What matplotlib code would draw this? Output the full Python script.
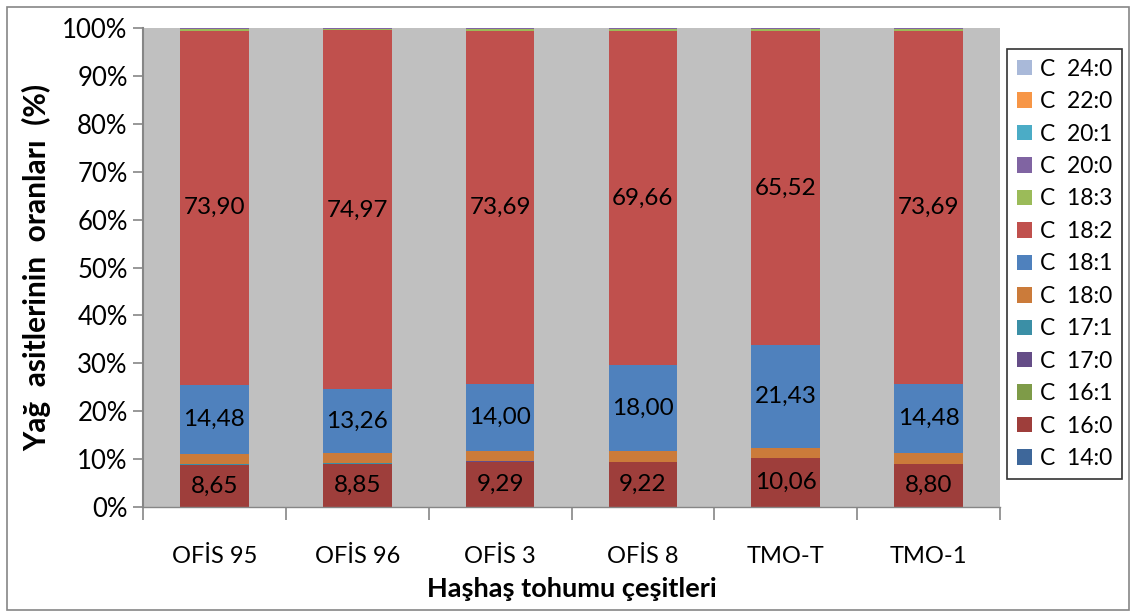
import matplotlib
matplotlib.use("Agg")
import matplotlib.pyplot as plt
import numpy as np
from matplotlib.patches import Patch, Rectangle

categories = ["OFİS 95", "OFİS 96", "OFİS 3", "OFİS 8", "TMO-T", "TMO-1"]
series_names = ["C  14:0", "C  16:0", "C  16:1", "C  17:0", "C  17:1", "C  18:0",
                "C  18:1", "C  18:2", "C  18:3", "C  20:0", "C  20:1", "C  22:0", "C  24:0"]
c14_0 = [0.08, 0.08, 0.08, 0.08, 0.08, 0.08]
c16_0 = [8.65, 8.85, 9.29, 9.22, 10.06, 8.80]
c16_1 = [0.10, 0.10, 0.10, 0.10, 0.10, 0.10]
c17_0 = [0.03, 0.03, 0.03, 0.03, 0.03, 0.03]
c17_1 = [0.03, 0.03, 0.03, 0.03, 0.03, 0.03]
c18_0 = [2.20, 2.20, 2.20, 2.20, 2.10, 2.15]
c18_1 = [14.48, 13.26, 14.00, 18.00, 21.43, 14.48]
c18_2 = [73.90, 74.97, 73.69, 69.66, 65.52, 73.69]
c18_3 = [0.35, 0.30, 0.40, 0.50, 0.47, 0.46]
c20_0 = [0.08, 0.08, 0.08, 0.08, 0.08, 0.08]
c20_1 = [0.05, 0.05, 0.05, 0.05, 0.05, 0.05]
c22_0 = [0.03, 0.03, 0.03, 0.03, 0.03, 0.03]
c24_0 = [0.02, 0.02, 0.02, 0.02, 0.02, 0.02]

series = [c14_0, c16_0, c16_1, c17_0, c17_1, c18_0, c18_1, c18_2, c18_3,
          c20_0, c20_1, c22_0, c24_0]
colors = ["#3E679A", "#9E3E3B", "#7E9B48", "#654D87", "#3B8FA6", "#CB7B3A",
          "#4F81BD", "#C0504D", "#9BBB59", "#8064A2", "#4BACC6", "#F79646", "#A9B9D9"]
labeled = {1, 6, 7}

font = "Lato"
plt.rcParams['font.family'] = [font, 'DejaVu Sans']

W, H = 1135, 612
fig = plt.figure(figsize=(W/100, H/100), dpi=100)
ax = fig.add_axes([143/W, 1-507/H, (1000-143)/W, (507-28)/H])
ax.set_facecolor("#C0C0C0")

data = np.array(series, dtype=float)
totals = data.sum(axis=0)
frac = data / totals
x = np.arange(len(categories))
bottom = np.zeros(len(categories))
for i, (vals, col) in enumerate(zip(frac, colors)):
    ax.bar(x, vals, 0.48, bottom=bottom, color=col, edgecolor="none", zorder=2)
    if i in labeled:
        for xi, v, b, raw in zip(x, vals, bottom, data[i]):
            ax.text(xi, b + v/2, f"{raw:.2f}".replace(".", ","), ha="center", va="center",
                    fontsize=17.5, color="black", zorder=3)
    bottom += vals

ax.set_xlim(-0.5, len(categories) - 0.5)
ax.set_ylim(0, 1)
yt = np.arange(0, 1.01, 0.1)
ax.set_yticks(yt)
ax.set_yticklabels([f"{int(round(t*100))}%" for t in yt], fontsize=18.5)
ax.set_xticks(x)
ax.set_xticklabels(categories, fontsize=17)
ax.set_xticks(np.arange(-0.5, len(categories)), minor=True)
ax.tick_params(axis="x", which="major", length=0, pad=28)
ax.tick_params(axis="x", which="minor", length=9, color="#868686", width=1.2)
ax.tick_params(axis="y", length=7, color="#868686", width=1.2, pad=4)
for s in ["top", "right"]:
    ax.spines[s].set_visible(False)
ax.spines["left"].set_color("#868686")
ax.spines["left"].set_linewidth(1.5)
ax.spines["bottom"].set_color("#868686")
ax.spines["bottom"].set_linewidth(1.0)

ax.set_ylabel("Yağ  asitlerinin  oranları  (%)", fontsize=21.5, fontweight="bold", labelpad=8)
ax.set_xlabel("Haşhaş tohumu çeşitleri", fontsize=19.5, fontweight="bold", labelpad=7)

handles = [Patch(facecolor=c, edgecolor="none") for c in colors][::-1]
leg = fig.legend(handles, series_names[::-1], loc="upper left",
                 bbox_to_anchor=(1007/W, 1-49/H), fontsize=16.5,
                 frameon=True, fancybox=False, edgecolor="black", handlelength=0.66,
                 handleheight=0.66, handletextpad=0.35, labelspacing=0.5,
                 borderpad=0.42, borderaxespad=0)
leg.get_frame().set_linewidth(1.2)

fig.patches.append(Rectangle((7/W, 1-610/H), (1129-7)/W, (610-7)/H, transform=fig.transFigure,
                             fill=False, edgecolor="#868686", linewidth=1.2))
fig.savefig("out.png", dpi=100)
